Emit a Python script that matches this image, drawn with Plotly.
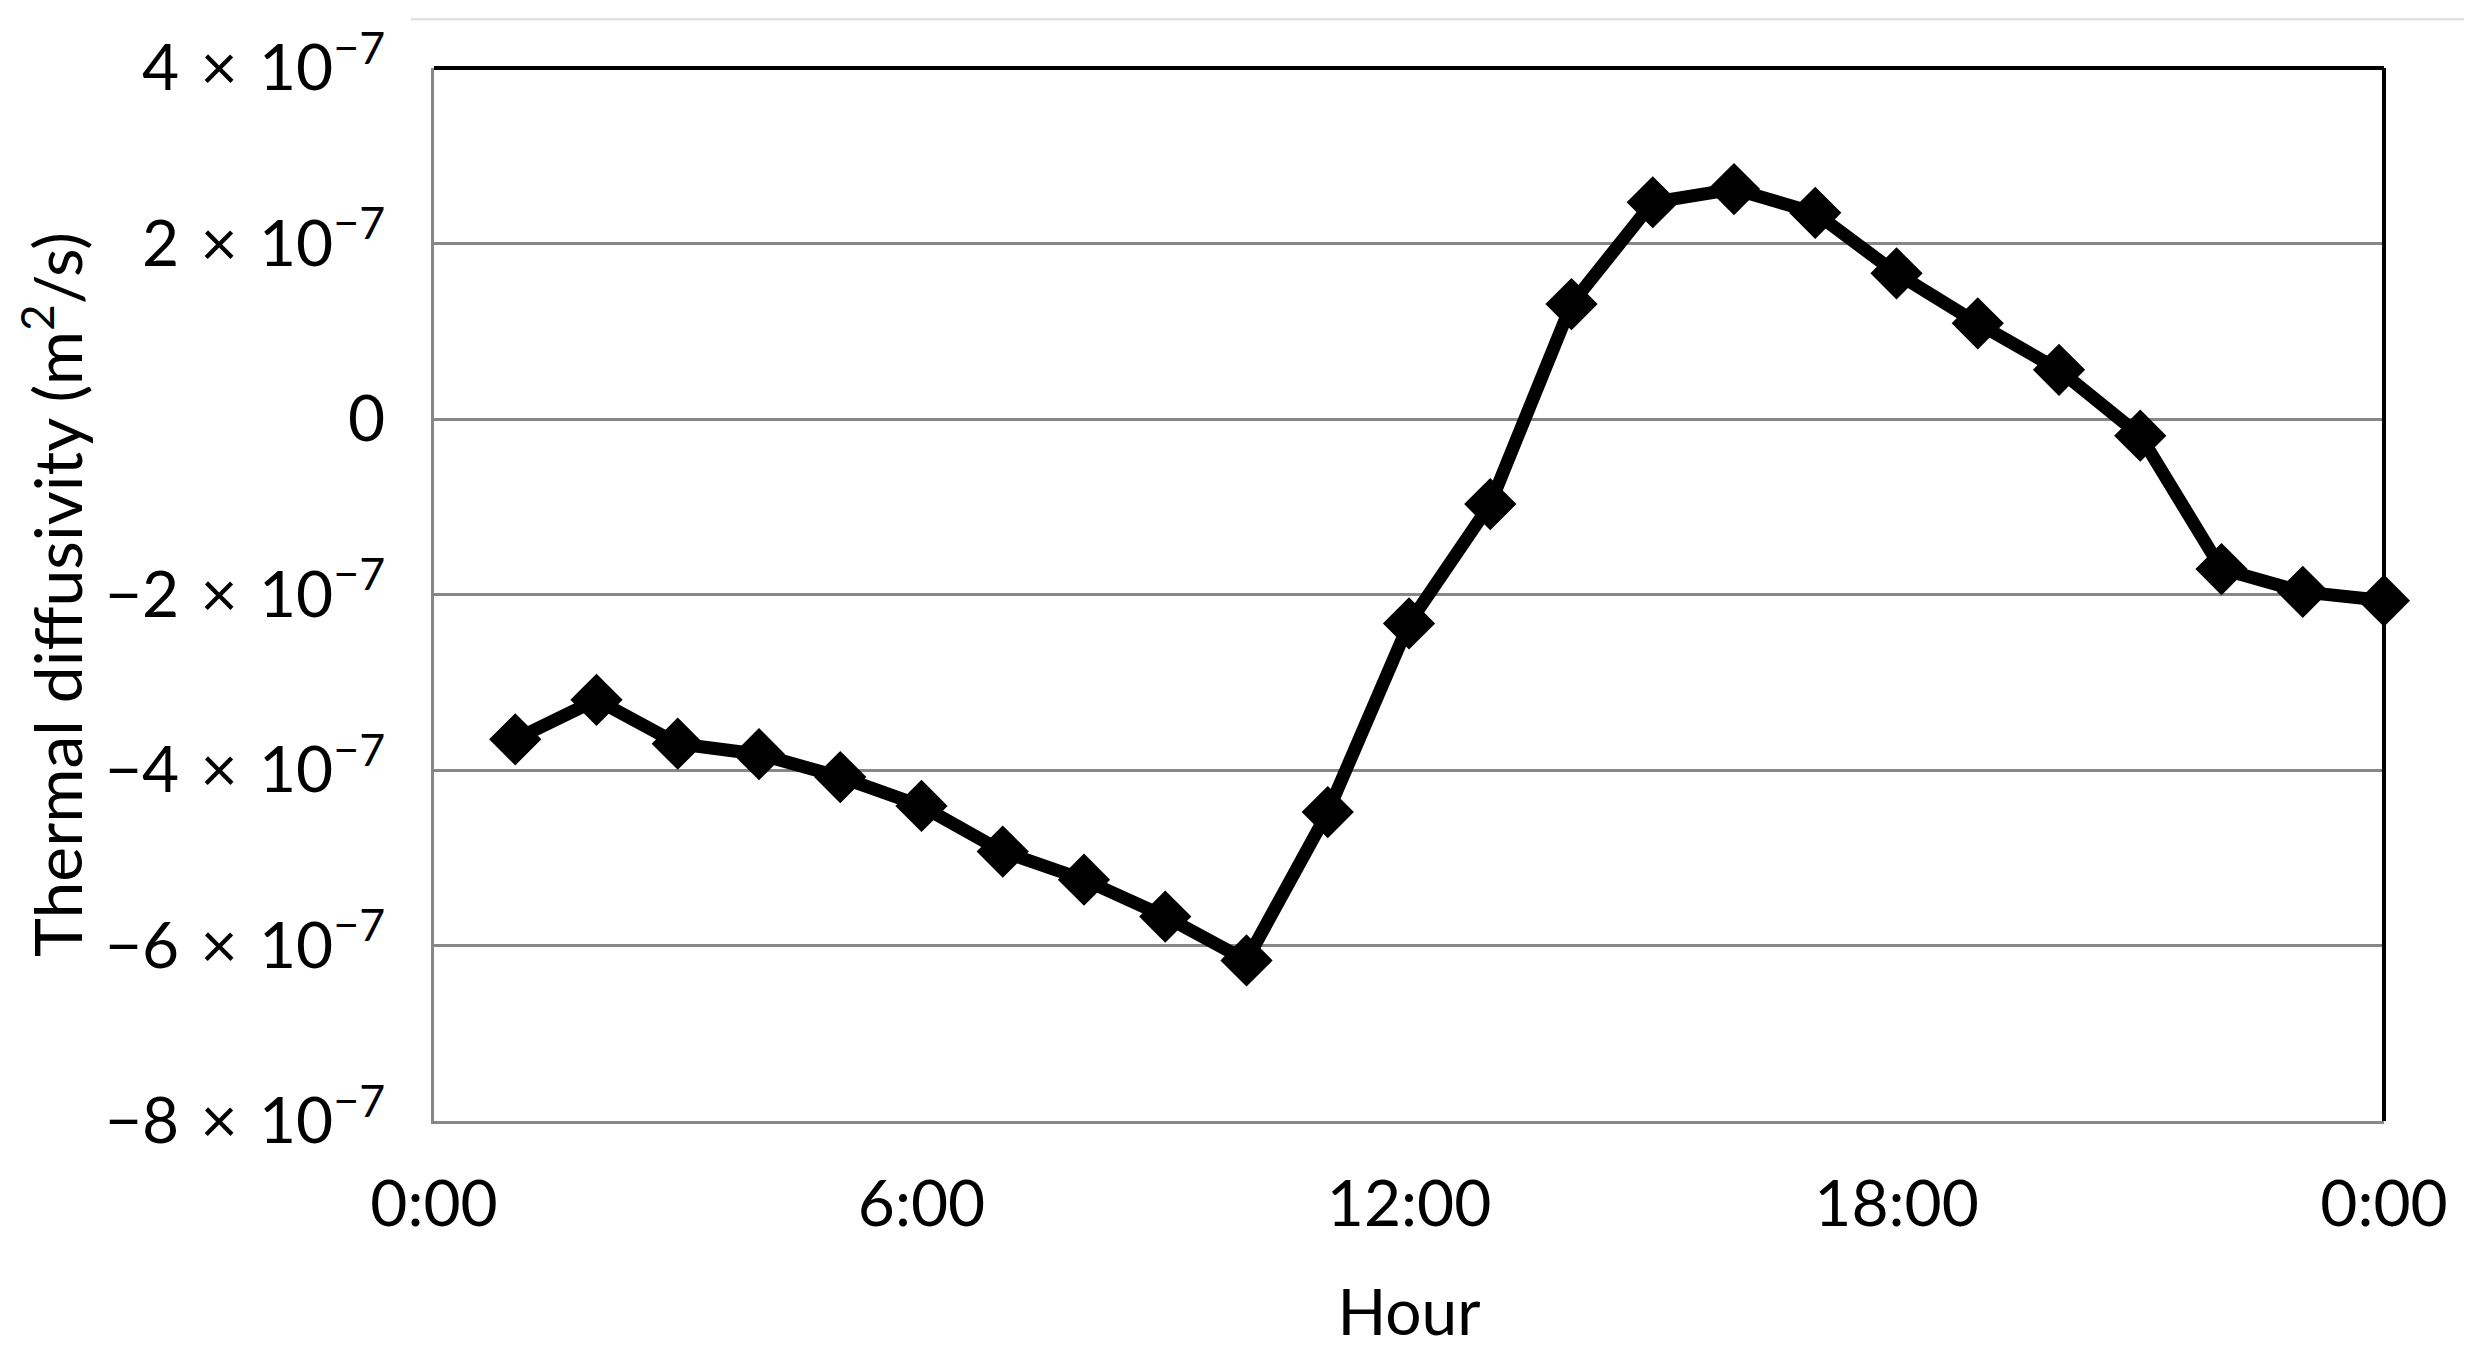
import plotly.graph_objects as go

# Data (hour of day, thermal diffusivity in m^2/s)
hours = [1, 2, 3, 4, 5, 6, 7, 8, 9, 10, 11, 12,
         13, 14, 15, 16, 17, 18, 19, 20, 21, 22, 23, 24]
diffusivity_e7 = [-3.65, -3.20, -3.70, -3.82, -4.08, -4.41, -4.93, -5.25,
                  -5.67, -6.17, -4.48, -2.33, -0.97, 1.31, 2.47, 2.62,
                  2.35, 1.66, 1.09, 0.56, -0.19, -1.71, -1.97, -2.07]
diffusivity = [v * 1e-7 for v in diffusivity_e7]

x_tickvals = [0, 6, 12, 18, 24]
x_ticktext = ["0:00", "6:00", "12:00", "18:00", "0:00"]
y_tickvals = [-8e-7, -6e-7, -4e-7, -2e-7, 0, 2e-7, 4e-7]
SP = "\u2004"
y_ticktext = [f"−8{SP}×{SP}10<sup>−7</sup>", f"−6{SP}×{SP}10<sup>−7</sup>", f"−4{SP}×{SP}10<sup>−7</sup>",
              f"−2{SP}×{SP}10<sup>−7</sup>", "0", f"2{SP}×{SP}10<sup>−7</sup>", f"4{SP}×{SP}10<sup>−7</sup>"]

FONT = "Lato"
GRID = "#878787"

# figure is rendered with an 8px page offset; plot area in figure coords
L, T, PW, PH = 426, 54, 1950, 1059
W, H = 2472, 1362


def px(X):
    return (X - L) / PW


def py(Y):
    return (T + PH - Y) / PH


fig = go.Figure()
fig.add_trace(go.Scatter(
    x=hours, y=diffusivity, mode="lines+markers",
    line=dict(color="black", width=13),
    marker=dict(symbol="diamond", size=38, color="black", line=dict(color="black", width=2)),
    cliponaxis=False, showlegend=False,
))

fig.update_layout(
    width=W, height=H,
    margin=dict(l=L, r=W - L - PW, t=T, b=H - T - PH),
    paper_bgcolor="white", plot_bgcolor="white",
    font=dict(family=FONT, size=64, color="black"),
    xaxis=dict(
        range=[0, 24], tickvals=x_tickvals, ticktext=x_ticktext,
        showgrid=False, zeroline=False, showline=True, linecolor=GRID, linewidth=3,
        ticks="", ticklabelstandoff=25,
        title=dict(text="Hour", font=dict(family=FONT, size=64), standoff=52),
        tickfont=dict(family=FONT, size=64),
    ),
    yaxis=dict(
        range=[-8e-7, 4e-7], tickvals=y_tickvals, ticktext=y_ticktext,
        showgrid=True, gridcolor=GRID, gridwidth=3, zeroline=False,
        showline=True, linecolor=GRID, linewidth=3,
        ticks="", ticklabelstandoff=33,
        title=dict(text="Thermal diffusivity (m<sup>2</sup>/s)", font=dict(family=FONT, size=66), standoff=15),
        tickfont=dict(family=FONT, size=64),
    ),
    shapes=[
        # top and right plot borders (black)
        dict(type="line", xref="paper", yref="paper", x0=0, x1=1, y0=1, y1=1,
             line=dict(color="black", width=4), layer="above"),
        dict(type="line", xref="paper", yref="paper", x0=1, x1=1, y0=0, y1=1,
             line=dict(color="black", width=4), layer="above"),
        # faint outer frame fragments
        dict(type="line", xref="paper", yref="paper", x0=px(403), x1=px(2460),
             y0=py(5), y1=py(5), line=dict(color="#dcdcdc", width=2), layer="below"),
        dict(type="line", xref="paper", yref="paper", x0=px(2460), x1=px(2460),
             y0=py(5), y1=py(H), line=dict(color="#dcdcdc", width=2), layer="below"),
    ],
)

fig.write_html("out.html")
